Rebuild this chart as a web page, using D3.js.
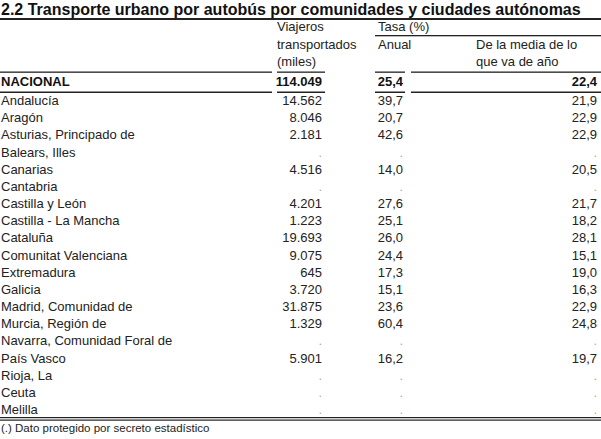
<!DOCTYPE html>
<html><head><meta charset="utf-8">
<script src="https://cdn.jsdelivr.net/npm/d3@7"></script>
<style>body{margin:0;background:#fff}text{font-family:"Liberation Sans",Arial,sans-serif}</style>
</head><body><svg id="t" width="601" height="439"></svg>
<script>
// data
const regions = ["Andalucía","Aragón","Asturias, Principado de","Balears, Illes","Canarias","Cantabria",
  "Castilla y León","Castilla - La Mancha","Cataluña","Comunitat Valenciana","Extremadura","Galicia",
  "Madrid, Comunidad de","Murcia, Región de","Navarra, Comunidad Foral de","País Vasco","Rioja, La","Ceuta","Melilla"];
const viajeros = ["14.562","8.046","2.181",".","4.516",".","4.201","1.223","19.693","9.075","645","3.720","31.875","1.329",".","5.901",".",".","."];
const anual = ["39,7","20,7","42,6",".","14,0",".","27,6","25,1","26,0","24,4","17,3","15,1","23,6","60,4",".","16,2",".",".","."];
const media = ["21,9","22,9","22,9",".","20,5",".","21,7","18,2","28,1","15,1","19,0","16,3","22,9","24,8",".","19,7",".",".","."];
const nacional = ["NACIONAL","114.049","25,4","22,4"];

const svg = d3.select("#t");
const fs = 13;
const y = d3.scaleBand().domain(regions).range([92, 418]);
const colRight = [322, 403, 597];
const lineSegs = [[0,272],[277,325],[375,405],[411,601]];

svg.append("text").attr("x",1).attr("y",15).attr("font-size",16).attr("font-weight","bold").attr("fill","#111")
  .text("2.2 Transporte urbano por autobús por comunidades y ciudades autónomas");
svg.append("rect").attr("x",0).attr("y",18).attr("width",601).attr("height",2).attr("fill","#222");

const hdr = svg.append("g").attr("font-size",fs).attr("fill","#222");
[["Viajeros",277,31],["transportados",277,48.5],["(miles)",277,66],["Tasa (%)",378,31],["Anual",378,48.5],
 ["De la media de lo",476,48.5],["que va de año",476,66]].forEach(d=>
  hdr.append("text").attr("x",d[1]).attr("y",d[2]).text(d[0]));
svg.append("rect").attr("x",375).attr("y",35).attr("width",226).attr("height",1.3).attr("fill","#222");

lineSegs.forEach(s=>{
  svg.append("rect").attr("x",s[0]).attr("y",71.5).attr("width",s[1]-s[0]).attr("height",1.3).attr("fill","#222");
  svg.append("rect").attr("x",s[0]).attr("y",91.5).attr("width",s[1]-s[0]).attr("height",1.5).attr("fill","#222");
});

svg.append("text").attr("x",1).attr("y",86).attr("font-size",fs).attr("font-weight","bold").attr("fill","#111").text(nacional[0]);
nacional.slice(1).forEach((v,i)=>svg.append("text").attr("x",colRight[i]).attr("y",86).attr("text-anchor","end")
  .attr("font-size",fs).attr("font-weight","bold").attr("fill","#111").text(v));

const rows = svg.selectAll("g.row").data(regions).join("g").attr("class","row")
  .attr("transform",d=>`translate(0,${y(d)+y.bandwidth()-4})`);
rows.append("text").attr("x",1).attr("font-size",fs).attr("fill","#222").text(d=>d);
[viajeros,anual,media].forEach((arr,c)=>{
  rows.append("text").attr("x",colRight[c]).attr("text-anchor","end").attr("font-size",fs)
    .attr("fill",(d,i)=>arr[i]==="."?"#aaa":"#222").text((d,i)=>arr[i]);
});

svg.append("rect").attr("x",0).attr("y",417).attr("width",601).attr("height",1.2).attr("fill","#222");
svg.append("rect").attr("x",0).attr("y",419.5).attr("width",601).attr("height",1.2).attr("fill","#222");
svg.append("text").attr("x",1).attr("y",432).attr("font-size",11.5).attr("fill","#222").text("(.) Dato protegido por secreto estadístico");
</script></body></html>
